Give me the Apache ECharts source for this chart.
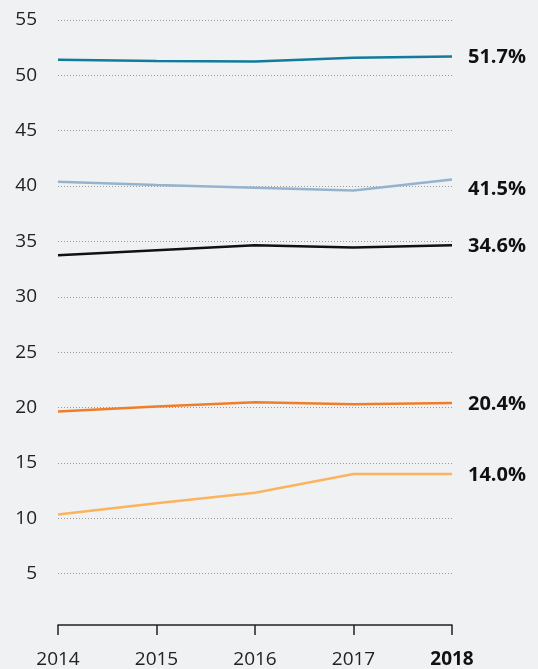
<!DOCTYPE html>
<html lang="en">
<head>
    <meta charset="utf-8">
    <title>Chart</title>
    <script src="https://cdn.jsdelivr.net/npm/echarts@6/dist/echarts.min.js"></script>
    <style>
        html, body { margin: 0; padding: 0; background: #f0f1f3; }
        #chart { width: 538px; height: 669px; }
    </style>
</head>
<body>
<div id="chart"></div>
<script type="text/javascript">
    var years = ['2014', '2015', '2016', '2017', '2018'];

    var blueValues = [51.4, 51.3, 51.25, 51.6, 51.7];
    var greyValues = [40.4, 40.1, 39.85, 39.6, 40.6];
    var blackValues = [33.75, 34.2, 34.65, 34.45, 34.65];
    var orangeValues = [19.65, 20.1, 20.47, 20.3, 20.4];
    var lightOrangeValues = [10.35, 11.35, 12.3, 14.0, 14.0];

    var endLabels = ['51.7%', '41.5%', '34.6%', '20.4%', '14.0%'];
    var colors = ['#127a9c', '#94b3cf', '#111111', '#f07d2a', '#fbb35e'];
    var labelOffsets = [[0, 1], [0, 10], [0, 1], [0, 1], [0, 1]];

    var allValues = [blueValues, greyValues, blackValues, orangeValues, lightOrangeValues];

    var myChart = echarts.init(document.getElementById('chart'));

    var series = [];
    for (var i = 0; i < allValues.length; i++) {
        series.push({
            type: 'line',
            data: allValues[i],
            symbol: 'none',
            lineStyle: {color: colors[i], width: 2.5},
            itemStyle: {color: colors[i]},
            endLabel: {
                show: true,
                formatter: endLabels[i],
                distance: 16,
                offset: labelOffsets[i],
                color: '#111',
                fontSize: 20,
                fontWeight: 'bold',
                fontFamily: 'Open Sans'
            },
            silent: true
        });
    }

    var option = {
        backgroundColor: '#f0f1f3',
        animation: false,
        grid: {
            left: 58,
            right: 86,
            top: 20,
            bottom: 39
        },
        xAxis: {
            type: 'category',
            data: years,
            boundaryGap: false,
            offset: -4,
            axisLine: {lineStyle: {color: '#222', width: 1.5}},
            axisTick: {show: true, interval: 0, length: 10, lineStyle: {color: '#222', width: 1.5}},
            axisLabel: {
                interval: 0,
                hideOverlap: false,
                color: '#222',
                fontSize: 19,
                fontFamily: 'Open Sans',
                margin: 25,
                formatter: function (v) {
                    return v === '2018' ? '{b|' + v + '}' : v;
                },
                rich: {
                    b: {fontWeight: 'bold', fontSize: 19, fontFamily: 'Open Sans', color: '#111'}
                }
            },
            splitLine: {show: false}
        },
        yAxis: {
            type: 'value',
            min: 0,
            max: 55,
            interval: 5,
            axisLine: {show: false},
            axisTick: {show: false},
            axisLabel: {
                color: '#222',
                fontSize: 19,
                fontFamily: 'Open Sans',
                margin: 21,
                formatter: function (v) {
                    return v === 0 ? '' : v;
                }
            },
            splitLine: {
                showMinLine: false,
                lineStyle: {color: '#9a9a9a', type: [1, 2], width: 1}
            }
        },
        series: series
    };

    myChart.setOption(option);
</script>
</body>
</html>
